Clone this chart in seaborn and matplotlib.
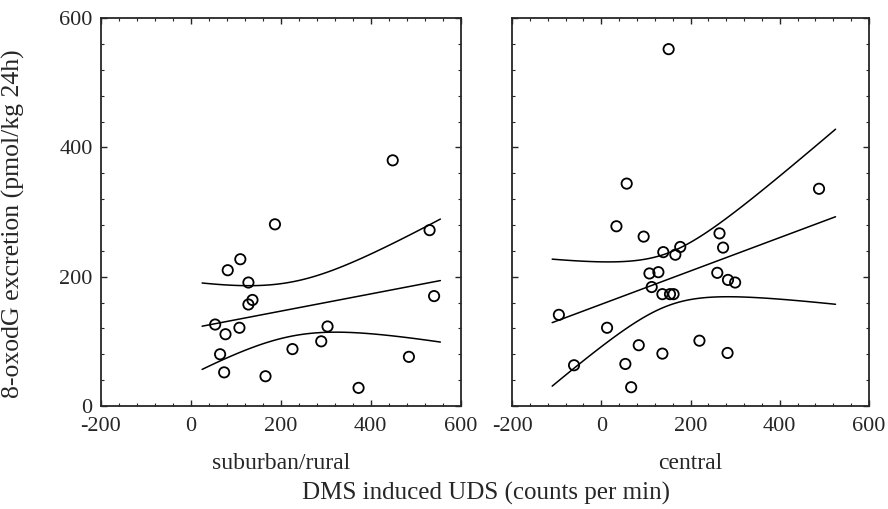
"""
8-oxodG excretion vs DMS induced UDS, two panels with OLS fit and 95% CI
"""

import numpy as np
import pandas as pd
import matplotlib
matplotlib.use('Agg')
import matplotlib.pyplot as plt
from matplotlib.ticker import MultipleLocator
import seaborn as sns

# Data
rural_uds = [449, 187, 531, 541, 110, 82, 128, 137, 128, 54,
             108, 77, 304, 290, 226, 65, 485, 74, 166, 373]
rural_oxo = [380, 281, 272, 170, 227, 210, 191, 164, 157, 126,
             121, 111, 123, 100, 88, 80, 76, 52, 46, 28]

central_uds = [151, 57, 488, 34, 95, 265, 273, 177, 166, 139, 108, 128, 260, 284,
               300, 113, 137, 154, 162, -95, 13, 84, 220, 137, 283, -61, 54, 67]
central_oxo = [552, 344, 336, 278, 262, 267, 245, 246, 234, 238, 205, 207, 206, 195,
               191, 184, 173, 173, 173, 141, 121, 94, 101, 81, 82, 63, 65, 29]

# range over which the fitted lines were drawn
rural_fit_range = (25, 555)
central_fit_range = (-110, 525)

# two-sided 95% t critical values by degrees of freedom
T95 = {18: 2.101, 26: 2.056}

panel_names = ['suburban/rural', 'central']
x_ticks = [-200, 0, 200, 400, 600]
y_ticks = [0, 200, 400, 600]

sns.set_style('ticks')
plt.rcParams['font.family'] = ['Liberation Serif', 'DejaVu Serif']
plt.rcParams['axes.unicode_minus'] = False


def fit_lines(x, y, xr):
    x = np.asarray(x, float)
    y = np.asarray(y, float)
    n = len(x)
    b, a = np.polyfit(x, y, 1)
    resid = y - (a + b * x)
    s = np.sqrt((resid ** 2).sum() / (n - 2))
    sxx = ((x - x.mean()) ** 2).sum()
    xs = np.linspace(xr[0], xr[1], 100)
    yhat = a + b * xs
    hw = T95[n - 2] * s * np.sqrt(1 / n + (xs - x.mean()) ** 2 / sxx)
    return pd.DataFrame({'x': xs, 'fit': yhat, 'lo': yhat - hw, 'hi': yhat + hw})


fig = plt.figure(figsize=(8.88, 5.09), dpi=100)
ax1 = fig.add_axes([0.1137, 0.2024, 0.405, 0.762])
ax2 = fig.add_axes([0.5766, 0.2024, 0.402, 0.762])

panels = [(ax1, rural_uds, rural_oxo, rural_fit_range),
          (ax2, central_uds, central_oxo, central_fit_range)]

for i, (ax, xv, yv, xr) in enumerate(panels):
    df = pd.DataFrame({'uds': xv, 'oxo': yv})
    lines = fit_lines(xv, yv, xr)
    for col in ['fit', 'lo', 'hi']:
        sns.lineplot(data=lines, x='x', y=col, ax=ax, color='black', linewidth=1.1)
    sns.scatterplot(data=df, x='uds', y='oxo', ax=ax, marker='o', s=55,
                    facecolor='none', edgecolor='black', linewidth=1.3, zorder=3)

    ax.set_xlim(-200, 600)
    ax.set_ylim(0, 600)
    ax.set_xticks(x_ticks)
    ax.set_yticks(y_ticks)
    ax.xaxis.set_minor_locator(MultipleLocator(40))
    ax.yaxis.set_minor_locator(MultipleLocator(40))
    ax.tick_params(which='both', direction='in', top=True, right=True, labelsize=16)
    ax.tick_params(which='major', length=4, width=1)
    ax.tick_params(which='minor', length=2, width=0.8)
    ax.tick_params(axis='x', pad=8)
    ax.tick_params(axis='y', pad=6)
    for sp in ax.spines.values():
        sp.set_linewidth(1.3)
        sp.set_visible(True)
    ax.set_xlabel(panel_names[i], fontsize=17, labelpad=12)
    ax.set_ylabel('')

ax2.set_yticklabels([])
ax1.set_ylabel('8-oxodG excretion (pmol/kg 24h)', fontsize=18.5)
ax1.yaxis.set_label_coords(-0.21, 0.47)
fig.text(0.547, 0.018, 'DMS induced UDS (counts per min)', ha='center', fontsize=18)

plt.savefig('out.png', dpi=100)
plt.close()
